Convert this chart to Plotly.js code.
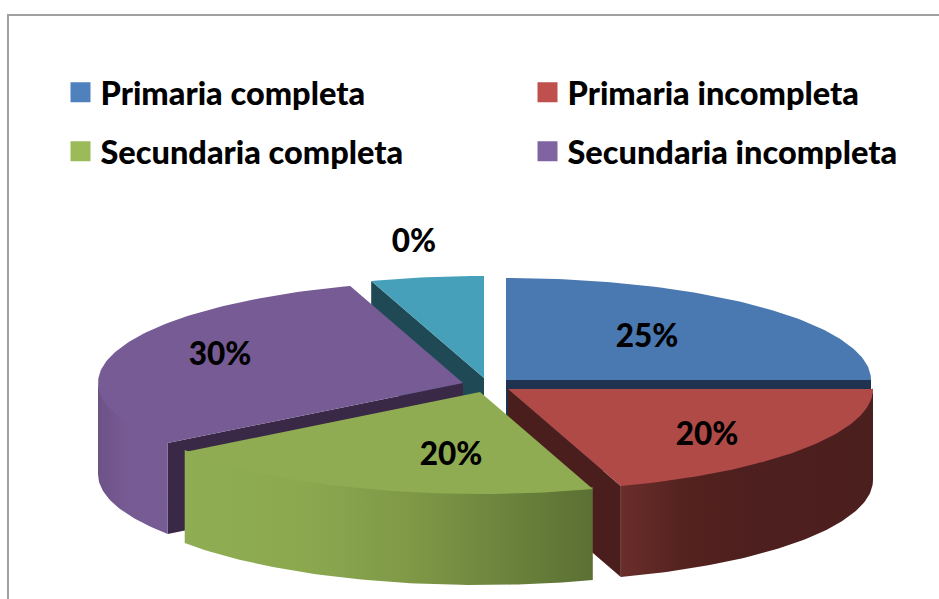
<!DOCTYPE html>
<html>
<head>
<meta charset="utf-8">
<script src="https://cdn.plot.ly/plotly-3.0.1.min.js"></script>
<style>html,body{margin:0;padding:0;background:#fff}#chart{width:939px;height:599px}</style>
</head>
<body>
<div id="chart"></div>
<script>
// ---- chart data ----
const categories = ["Primaria completa", "Primaria incompleta", "Secundaria completa", "Secundaria incompleta", ""];
const sliceShares = [25, 20, 20, 30, 5];
const sliceLabels = ["25%", "20%", "20%", "30%", "0%"];

// ---- styling and layout ----
const legendColors = ["#4f81bd", "#c0504d", "#9bbb59", "#8064a2"];
const legendIds = ["legend", "legend2", "legend3", "legend4"];
const legendLeft = [60.5, 527.5, 60.5, 527.5];
const legendMid = [92.5, 92.5, 151.5, 151.5];
const topColors = ["#4a78b0", "#b04a47", "#8fac52", "#765b95", "#47a0ba"];
const faceColors = ["#1f3350", "#4b1e1e", "#4b5e2a", "#392846", "#1f4a55"];
const wallStops = [
  [[0, "#1f3350"], [1, "#1f3350"]],
  [[0, "#6a2e2b"], [0.25, "#54221f"], [0.5, "#4d1f1e"], [1, "#4c1f1f"]],
  [[0, "#8fad52"], [0.3, "#8ba84f"], [0.55, "#7f9947"], [1, "#5b7033"]],
  [[0, "#6d5287"], [0.45, "#775b93"], [1, "#775b94"]],
  [[0, "#1f4a55"], [1, "#1f4a55"]]
];
const apexX = [506, 508, 480, 463, 484];
const apexY = [380, 389, 392, 383, 378];
const labelX = [647, 707, 451, 220, 414];
const labelY = [339, 437, 457, 357, 244];
const drawOrder = [4, 0, 3, 1, 2];
const radiusX = 365, radiusY = 102, depth = 91;
const textFont = {family: "Lato, Carlito, sans-serif", color: "#000", weight: 900};

const rad = d => d * Math.PI / 180;
const rimX = (i, a) => apexX[i] + radiusX * Math.sin(rad(a));
const rimY = (i, a) => apexY[i] - radiusY * Math.cos(rad(a));

function arc(i, a0, a1, dy) {
  const xs = [], ys = [], n = Math.max(2, Math.ceil(Math.abs(a1 - a0)));
  for (let k = 0; k <= n; k++) {
    const a = a0 + (a1 - a0) * k / n;
    xs.push(rimX(i, a)); ys.push(rimY(i, a) + dy);
  }
  return [xs, ys];
}
function poly(xs, ys, color, gradient) {
  const t = {type: "scatter", mode: "lines", x: xs.concat(xs[0]), y: ys.concat(ys[0]),
    fill: "toself", line: {width: 0}, showlegend: false, hoverinfo: "skip"};
  if (gradient) t.fillgradient = gradient; else t.fillcolor = color;
  return t;
}
function face(i, a, color) {
  return poly([apexX[i], rimX(i, a), rimX(i, a), apexX[i]],
              [apexY[i], rimY(i, a), rimY(i, a) + depth, apexY[i] + depth], color);
}

const starts = [];
sliceShares.reduce((s, v, i) => { starts[i] = s; return s + v * 3.6; }, 0);

const traces = [];
drawOrder.forEach(i => {
  const a0 = starts[i], a1 = a0 + sliceShares[i] * 3.6;
  if (Math.sin(rad(a0)) < -1e-6) traces.push(face(i, a0, faceColors[i]));
  if (Math.sin(rad(a1)) > 1e-6) traces.push(face(i, a1, faceColors[i]));
  const w0 = Math.max(a0, 90), w1 = Math.min(a1, 270);
  if (w1 > w0) {
    const [tx, ty] = arc(i, w0, w1, -2), [bx, by] = arc(i, w1, w0, depth);
    traces.push(poly(tx.concat(bx), ty.concat(by), null, {
      type: "horizontal", colorscale: wallStops[i],
      start: Math.min(...tx), stop: Math.max(...tx)}));
  }
  const [sx, sy] = arc(i, a0, a1, 0);
  traces.push(poly([apexX[i]].concat(sx), [apexY[i]].concat(sy), topColors[i]));
});

traces.push({type: "scatter", mode: "text", x: labelX, y: labelY, text: sliceLabels,
  textposition: "middle center", showlegend: false, hoverinfo: "skip",
  textfont: Object.assign({size: 31.5}, textFont)});

categories.slice(0, 4).forEach((c, i) => traces.push({
  type: "scatter", mode: "markers", x: [null], y: [null], name: c,
  legend: legendIds[i],
  marker: {symbol: "square", size: 16, color: legendColors[i], line: {width: 4, color: legendColors[i]}}
}));

const layout = {
  width: 939, height: 599,
  margin: {l: 0, r: 0, t: 0, b: 0},
  paper_bgcolor: "#fff", plot_bgcolor: "#fff",
  xaxis: {range: [0, 939], visible: false},
  yaxis: {range: [599, 0], visible: false},
  showlegend: true,
  shapes: [{type: "path", xref: "paper", yref: "paper",
    path: "M0.0085,0 L0.0085,0.975 L1,0.975", line: {color: "#a0a0a0", width: 2}}]
};
legendIds.forEach((id, i) => {
  layout[id] = {
    orientation: "v", xanchor: "left", yanchor: "middle",
    x: legendLeft[i] / 939, y: 1 - legendMid[i] / 599,
    bgcolor: "rgba(0,0,0,0)", borderwidth: 0, itemwidth: 30,
    font: Object.assign({size: 32.5}, textFont)
  };
});
Plotly.newPlot("chart", traces, layout, {displayModeBar: false, staticPlot: true});
</script>
</body>
</html>
